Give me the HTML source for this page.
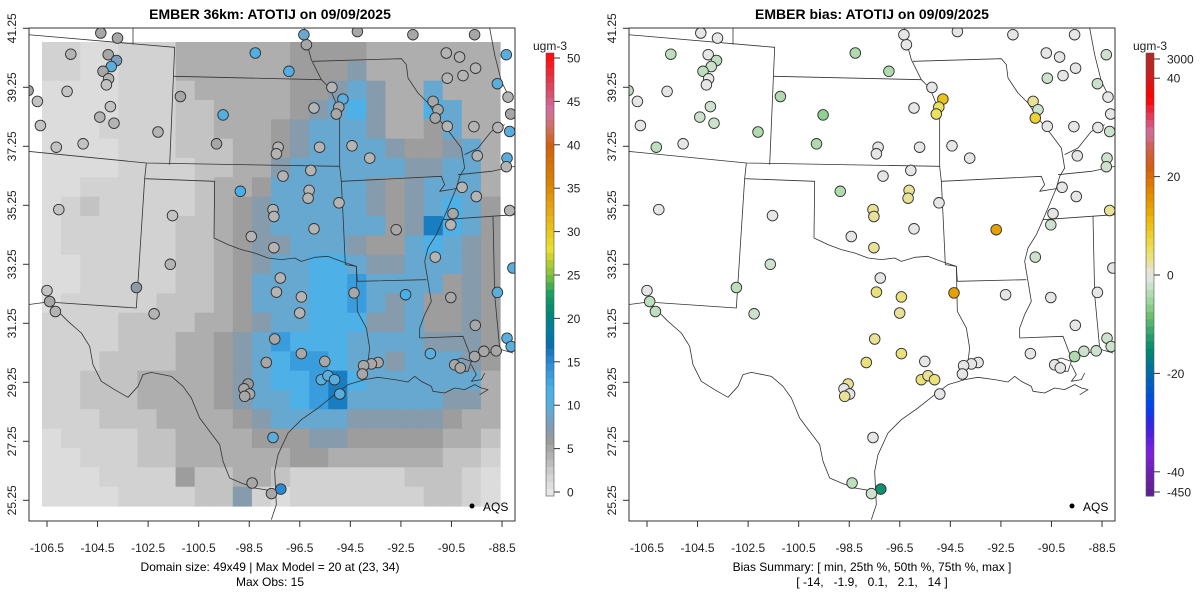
<!DOCTYPE html>
<html><head><meta charset="utf-8"><style>
body{margin:0;background:#fff;}
svg{display:block;font-family:"Liberation Sans",sans-serif;}
</style></head><body>
<svg id="c" width="1200" height="600" viewBox="0 0 1200 600">
<defs>
<clipPath id="clipL"><rect x="29" y="28" width="486" height="493"/></clipPath>
<clipPath id="clipR"><rect x="629" y="28" width="486" height="493"/></clipPath>
</defs>
<rect width="1200" height="600" fill="#fff"/>
<text x="270" y="19" text-anchor="middle" font-size="14" font-weight="bold">EMBER 36km: ATOTIJ on 09/09/2025</text>
<text x="872" y="19" text-anchor="middle" font-size="14" font-weight="bold">EMBER bias: ATOTIJ on 09/09/2025</text>
<g id="gridL" clip-path="url(#clipL)"></g>
<g id="mapL" clip-path="url(#clipL)"></g>
<g id="mapR" clip-path="url(#clipR)"></g>
<g id="ptsL" clip-path="url(#clipL)"></g>
<g id="ptsR" clip-path="url(#clipR)"></g>
<rect x="29" y="28" width="486" height="493" fill="none" stroke="#333" stroke-width="1"/>
<rect x="629" y="28" width="486" height="493" fill="none" stroke="#333" stroke-width="1"/>
<g id="axes" font-size="12" fill="#222"></g>
<g id="cbars" font-size="13" fill="#222"></g>
<g><circle cx="472" cy="506" r="2.5" fill="#000"/><text x="483" y="511" font-size="12">AQS</text></g>
<g><circle cx="1072" cy="506" r="2.5" fill="#000"/><text x="1083" y="511" font-size="12">AQS</text></g>
<text x="270" y="571" text-anchor="middle" font-size="12">Domain size: 49x49 | Max Model = 20 at (23, 34)</text>
<text x="270" y="586" text-anchor="middle" font-size="12">Max Obs: 15</text>
<text x="872" y="571" text-anchor="middle" font-size="12">Bias Summary: [ min, 25th %, 50th %, 75th %, max ]</text>
<text x="872" y="586" text-anchor="middle" font-size="12" xml:space="preserve">[ -14,   -1.9,   0.1,   2.1,   14 ]</text>
</svg>
<script>
const NS="http://www.w3.org/2000/svg";
// ---- data ----
const xTicks=[-106.5,-104.5,-102.5,-100.5,-98.5,-96.5,-94.5,-92.5,-90.5,-88.5];
const yTicks=[41.25,39.25,37.25,35.25,33.25,31.25,29.25,27.25,25.25];
const cbTicksL=[0,5,10,15,20,25,30,35,40,45,50];
const cbTicksR=["3000","40","20","0","-20","-40","-450"];
const cbTickValsR=[43.9,40,20,0,-20,-40,-44.1];
const gridLevels=[1,2,3,4.5,5.8,7.2,9.2,11.5,13.5,16];
const gridRows=[
"110011133333344443333333",
"110011133333344453333333",
"000011123333344565336333",
"000011122333345675337633",
"000111122333456665334633",
"000011122233456666544563",
"000011112233566666655663",
"001111112334666665456663",
"012111112345666665456764",
"011111122345666666459764",
"011111122345566654467654",
"001111122345667765566654",
"001111122346667786666454",
"011111222346667786564454",
"111122223345667775564454",
"111122233456877766665554",
"111222233456788766566654",
"112223333456778976666663",
"112223333456678966666553",
"111222333345666655555433",
"011112233334445544444332",
"001112233333344333333221",
"000111142233211111122210",
"000011112251011111112210"];
const stLon=[-106.10,-104.58,-104.24,-104.45,-104.79,-104.56,-104.65,-106.25,-107.46,-104.49,-104.92,-104.34,-107.34,-106.69,-105.60,-102.55,-101.64,-99.90,-100.17,-98.59,-97.22,-96.51,-96.61,-95.47,-95.02,-95.19,-95.29,-96.20,-97.66,-97.73,-95.97,-94.65,-93.93,-97.46,-96.33,-99.20,-96.40,-96.44,-97.87,-97.83,-95.18,-96.20,-98.75,-97.83,-101.96,-102.05,-103.43,-102.71,-106.59,-107.07,-106.96,-106.73,-97.57,-97.73,-96.71,-96.78,-94.57,-92.47,-92.85,-91.35,-91.15,-91.26,-90.77,-89.69,-88.71,-90.81,-90.27,-89.62,-90.77,-90.13,-88.73,-88.37,-88.30,-88.23,-89.55,-88.34,-90.17,-89.59,-90.54,-90.63,-88.23,-91.26,-90.63,-89.63,-88.73,-88.34,-88.78,-89.28,-89.66,-90.47,-90.24,-91.46,-93.59,-93.86,-94.18,-94.23,-95.76,-95.90,-95.63,-95.36,-95.15,-96.71,-97.80,-98.14,-98.88,-99.05,-98.82,-99.02,-97.87,-97.55,-97.93,-98.72,-92.17,-89.66,-104.88,-104.20,-107.84,-94.43,-88.19,-88.37,-88.10,-88.17];
const stLat=[40.93,40.91,40.71,40.50,40.33,40.07,39.86,39.63,39.28,39.10,38.73,38.52,38.44,37.68,37.80,38.21,39.45,38.81,37.80,40.97,40.33,41.26,41.61,39.77,39.36,39.08,38.84,39.05,37.68,37.45,37.68,37.73,37.30,36.67,36.87,36.14,36.17,35.90,35.50,35.26,35.74,34.83,34.56,34.17,35.29,33.59,32.78,31.86,35.50,32.67,32.29,31.94,33.11,32.62,32.45,31.89,32.59,32.53,34.80,39.28,38.99,38.70,38.41,38.40,38.37,40.97,40.83,40.44,40.09,40.18,39.90,40.91,39.43,38.23,37.38,37.30,36.28,35.96,35.36,34.97,35.47,33.84,32.43,31.46,32.61,31.01,30.57,30.55,30.37,30.08,29.97,30.47,30.16,30.11,30.05,29.76,30.20,29.56,29.70,29.56,29.06,30.47,30.98,30.16,29.41,29.24,29.06,28.98,27.54,25.74,25.58,25.95,41.61,41.61,41.67,41.49,39.66,41.72,38.84,37.00,33.46,30.72];
const stObs=[4,5,8,10,5,4,3,3,3,3,4,4,3,3,3,4,5,11,5,11,11,5,9,4,10,5,5,4,4,4,4,4,4,4,4,12,4,4,4,4,4,4,4,4,3,4,7,4,3,3,5,4,4,4,4,4,5,12,5,5,5,5,4,4,4,4,4,4,4,4,10,10,4,10,4,10,4,4,5,4,4,4,5,5,10,10,5,5,5,5,5,10,5,5,5,5,5,10,10,10,10,5,5,5,6,5,5,5,10,15,5,5,5,5,5,5,5,5,5,4,10,10];
const stBias=[-3,0,-3,-2,-3,0,0,0,0,-2,-2,-2,0,-3,0,-4,-4,-6,-4,-4,-4,0,0,0,10,5,5,0,0,0,0,0,0,0,0,-4,3,3,3,3,0,0,0,3,0,-2,-3,-2,0,0,-3,-3,0,4,4,3,14,0,14,3,-2,8,0,0,0,0,0,0,-2,0,-2,-2,0,-2,0,-2,0,0,0,-2,3,-2,0,0,0,-2,-2,-2,-4,0,0,0,0,0,0,0,0,4,3,4,0,4,3,4,3,0,0,3,0,-14,-2,-3,0,0,0,0,-3,0,0,-2,0,-2];

// ---- scales ----
const xAx=lon=>47+(lon+106.5)*25.28;
const yAx=lat=>28.3+(41.25-lat)*29.5;
const px=lon=>61+(lon+106.5)*24.56;   // station projection
const py=lat=>45+(41.25-lat)*28.63;
const cbYL=v=>492-v*8.68;
const cbYR=v=>275-v*4.92;
function hex(h){return [parseInt(h.slice(1,3),16),parseInt(h.slice(3,5),16),parseInt(h.slice(5,7),16)];}
function interp(stops,v){
  if(v<=stops[0][0])return stops[0][1];
  for(let i=1;i<stops.length;i++){if(v<=stops[i][0]){const a=stops[i-1],b=stops[i],t=(v-a[0])/(b[0]-a[0]);const A=hex(a[1]),B=hex(b[1]);return "rgb("+A.map((x,k)=>Math.round(x+(B[k]-x)*t)).join(",")+")";}}
  return stops[stops.length-1][1];
}
const stopsL=[[0,"#e6e6e6"],[2,"#d2d2d2"],[4,"#b4b4b4"],[6,"#9a9a9a"],[7,"#8a9aa8"],[8,"#78a0bc"],[10,"#5aaede"],[12,"#48b0e8"],[15,"#2a8ad2"],[17,"#0870b0"],[19,"#00809a"],[21,"#008a70"],[23,"#20a060"],[25,"#80c040"],[27,"#c8d030"],[28,"#e8e030"],[30,"#e8c820"],[33,"#e8a010"],[36,"#d88000"],[40,"#d06010"],[42,"#d07060"],[44,"#d070a0"],[46,"#d85070"],[48,"#e83040"],[50,"#ff1010"]];
const stopsR=[[-44,"#602090"],[-40,"#7020b0"],[-36,"#8020e0"],[-31,"#4020e0"],[-27,"#0040f0"],[-22,"#0060c0"],[-18,"#007890"],[-15,"#008870"],[-12,"#30a070"],[-8,"#70c070"],[-5,"#a0d8a0"],[-2,"#cce2cc"],[0,"#e6e6e6"],[2,"#e8e2b0"],[5,"#ece060"],[9,"#eccc20"],[13,"#e8a800"],[18,"#e08000"],[22,"#d06010"],[26,"#d06050"],[29,"#d070a0"],[32,"#e04060"],[36,"#ff0000"],[41,"#c82020"],[48,"#a03030"]];

function el(tag,attrs,parent){const e=document.createElementNS(NS,tag);for(const k in attrs)e.setAttribute(k,attrs[k]);parent.appendChild(e);return e;}

// ---- model grid ----
const gL=document.getElementById('gridL');
const gx0=42,gx1=500,gy0=42,gy1=506,nc=gridRows[0].length,nr=gridRows.length;
gridRows.forEach((row,r)=>{for(let c=0;c<nc;c++){
  const v=gridLevels[+row[c]];
  const x=gx0+(gx1-gx0)*c/nc,y=gy0+(gy1-gy0)*r/nr;
  const e=el('rect',{x:x.toFixed(1),y:y.toFixed(1),width:((gx1-gx0)/nc+0.6).toFixed(1),height:((gy1-gy0)/nr+0.6).toFixed(1),fill:interp(stopsL,v)},gL);
  
  
}});

// ---- map borders (traced outline, reference-image coordinates /3) ----
const borders=[
"M0,20 L440,58 L425,410",
"M315,0 L315,50",
"M437,145 L880,155",
"M830,0 L835,40 L850,95 L880,155 L905,180 L920,215 L935,270 L935,415",
"M855,100 L1120,92 L1135,110 L1140,150 L1170,195 L1200,225 L1230,270 L1270,320 L1300,360 L1310,420 L1295,445 L1285,480 L1260,540 L1245,575 L1225,620 L1200,660 L1190,700 L1200,760 L1210,820 L1190,860 L1175,900 L1175,930",
"M0,370 L355,405 L935,415",
"M935,415 L940,460 L1240,445 L1250,470 L1235,490 L1285,482",
"M1290,440 L1390,430 L1460,415",
"M1245,575 L1460,560",
"M1395,565 L1400,800 L1415,960",
"M1385,0 L1400,80 L1420,160 L1440,200",
"M1310,380 L1350,360 L1390,310 L1430,290",
"M355,405 L350,452 L560,460 L558,630 L600,650 L640,665 L680,675 L720,690 L760,695 L800,690 L820,700 L860,688 L900,685 L940,700 L985,715",
"M350,452 L325,840 L60,822",
"M0,830 L60,822",
"M940,460 L945,560 L952,710 L985,715 L988,760 L1195,755",
"M985,715 L988,850 L1015,900 L1025,960 L1020,1000 L1005,1045",
"M1175,930 L1305,925 L1330,990",
"M60,822 L90,850 L120,880 L160,915 L185,955 L195,1010 L220,1060 L260,1085 L300,1108 L330,1075 L345,1040 L370,1033 L430,1045 L465,1075 L490,1110 L515,1170 L545,1210 L575,1250 L585,1300 L605,1350 L640,1365 L680,1380 L740,1390",
"M730,1475 L745,1430 L740,1330 L750,1280 L780,1215 L820,1175 L870,1140 L920,1100 L960,1070 L1010,1055 L1050,1048 L1100,1055 L1140,1062 L1160,1045 L1180,1060 L1210,1075 L1215,1090 L1250,1095 L1280,1080 L1310,1085 L1340,1070 L1360,1080 L1380,1085 L1355,1100",
"M1340,985 L1380,975 L1420,965 L1455,975",
"M1270,1000 L1300,990 L1330,1000 L1320,1030 L1290,1030 L1270,1015 Z",
"M1330,1010 L1345,1040 L1330,1060 L1360,1055 L1370,1035"
];
function drawBorders(id,dx){
  const g=document.getElementById(id);
  const gg=el('g',{transform:`translate(${dx},28) scale(0.33333)`},g);
  borders.forEach(d=>{
    const p=el('path',{d:d,fill:'none',stroke:'#333',"stroke-width":'0.8',"vector-effect":'non-scaling-stroke',"stroke-linejoin":'round'},gg);
    
    
  });
}
drawBorders('mapL',28);drawBorders('mapR',628);

// ---- stations ----
const pL=document.getElementById('ptsL'),pR=document.getElementById('ptsR');
for(let i=0;i<stLon.length;i++){
  const a=el('circle',{cx:px(stLon[i]).toFixed(1),cy:py(stLat[i]).toFixed(1),r:5.3,fill:interp(stopsL,stObs[i]),stroke:'#333',"stroke-width":0.9},pL);
  
  
  const b=el('circle',{cx:(600+px(stLon[i])).toFixed(1),cy:py(stLat[i]).toFixed(1),r:5.3,fill:interp(stopsR,stBias[i]),stroke:'#333',"stroke-width":0.9},pR);
  
  
}

// ---- axes ----
const ax=document.getElementById('axes');
[0,600].forEach(dx=>{
  xTicks.forEach(t=>{
    const x=xAx(t)+dx;
    el('line',{x1:x,x2:x,y1:521,y2:527,stroke:'#333'},ax);
    const tx=el('text',{x:x,y:552,"text-anchor":'middle'},ax);tx.textContent=t;
    
    
  });
  yTicks.forEach(t=>{
    const y=yAx(t);
    el('line',{x1:23+dx,x2:29+dx,y1:y,y2:y,stroke:'#333'},ax);
    const tx=el('text',{x:16+dx,y:y,"text-anchor":'middle',transform:`rotate(-90 ${16+dx} ${y})`},ax);tx.textContent=t.toFixed(2);
    
    
  });
});

// ---- colorbars ----
const cb=document.getElementById('cbars');
function colorbar(x,y0,y1,vfun,stops,name){
  const g=el('g',{},cb);
  
  
  const n=60;
  for(let i=0;i<n;i++){
    const y=y1-(y1-y0)*(i+1)/n;
    el('rect',{x:x,y:y.toFixed(1),width:8,height:((y1-y0)/n+0.5).toFixed(1),fill:interp(stops,vfun(y+(y1-y0)/n/2))},g);
  }
  el('rect',{x:x,y:y0,width:8,height:y1-y0,fill:'none',stroke:'#555',"stroke-width":0.6},g);
}
colorbar(546,53,496,y=>(492-y)/8.68,stopsL,'colorbar-obs');
colorbar(1146,53,496,y=>(275-y)/4.92,stopsR,'colorbar-bias');
cbTicksL.forEach(t=>{const y=cbYL(t);el('line',{x1:554,x2:560,y1:y,y2:y,stroke:'#333'},cb);const tx=el('text',{x:567,y:y+4.5,"font-size":12},cb);tx.textContent=t;

});
cbTicksR.forEach((t,i)=>{const y=cbYR(cbTickValsR[i]);el('line',{x1:1154,x2:1160,y1:y,y2:y,stroke:'#333'},cb);const tx=el('text',{x:1167,y:y+4.5,"font-size":12},cb);tx.textContent=t;

});
[530,1130].forEach(x=>{const t=el('text',{x:x+3,y:50,"font-size":12},cb);t.textContent='ugm-3';

});
</script>
</body></html>
